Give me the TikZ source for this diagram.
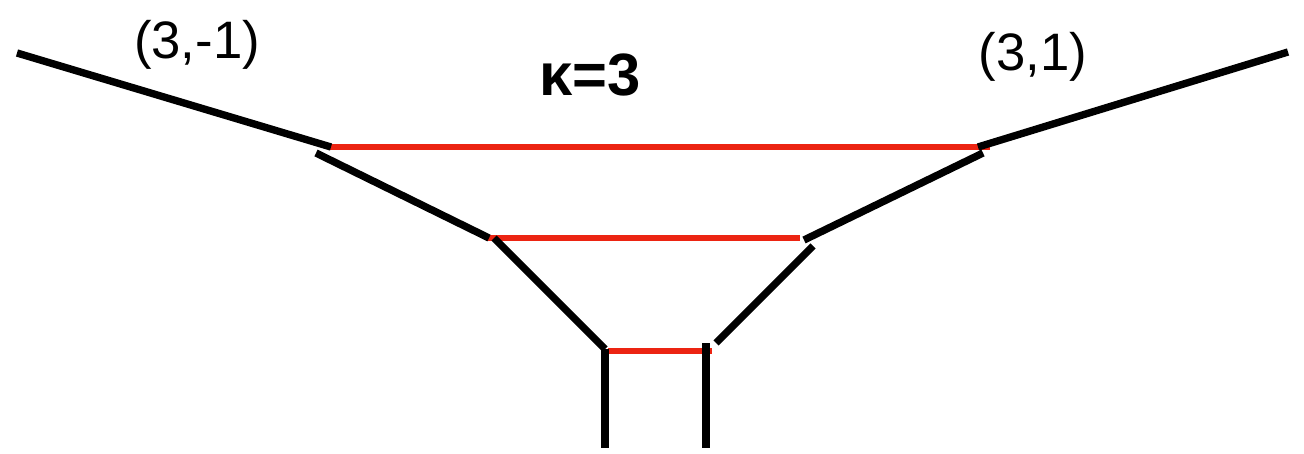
\documentclass[tikz,border=0pt]{standalone}
\usepackage{fontspec}
\setmainfont{Liberation Sans}
\usepackage{tikz}
\usetikzlibrary{positioning}

\definecolor{rungred}{RGB}{236,36,18}

\begin{document}
\begin{tikzpicture}[
        x=0.02cm, y=-0.02cm,
        leg/.style={line width=4.2pt, black},
        rung/.style={line width=3.8pt, rungred},
        lbl/.style={font=\fontsize{30}{32}\selectfont, inner sep=0pt}
      ]
        \useasboundingbox (0,0) rectangle (1304,453);
        % outer legs
        \coordinate (la) at (17,53);
        \coordinate (lb) at (331,147);
        \coordinate (ra) at (1288,52);
        \coordinate (rb) at (978,147);
        % middle legs
        \coordinate (lc) at (316,153);
        \coordinate (ld) at (489,238);
        \coordinate (rc) at (983,153);
        \coordinate (rd) at (804,240);
        % inner legs
        \coordinate (le) at (494,238);
        \coordinate (lf) at (605,349);
        \coordinate (re) at (813,246);
        \coordinate (rf) at (716,343);
        % stems
        \coordinate (lg) at (605,448);
        \coordinate (rg) at (706,343);
        \coordinate (rh) at (706,448);
        \draw[rung] (329,147) -- (990,147);
        \draw[rung] (486,238) -- (800,238);
        \draw[rung] (608,351) -- (712,351);
        \draw[leg] (la) -- (lb);
        \draw[leg] (rb) -- (ra);
        \draw[leg] (lc) -- (ld);
        \draw[leg] (rc) -- (rd);
        \draw[leg] (le) -- (lf);
        \draw[leg] (re) -- (rf);
        \draw[leg] (lf) -- (lg);
        \draw[leg] (rg) -- (rh);
        \node[lbl] (lleft) at (197,45) {(3,-1)};
        \node[lbl] (lright) at (1033,57) {(3,1)};
        \node[lbl, font=\fontsize{34}{36}\selectfont\bfseries] (kappa) at (590,75) {κ=3};
      \end{tikzpicture}
\end{document}
